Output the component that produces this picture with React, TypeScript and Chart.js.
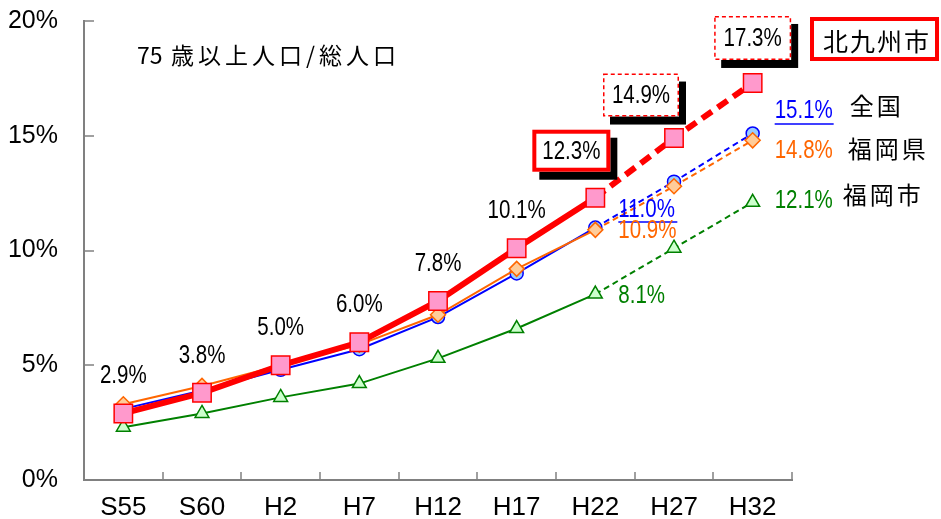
import React, { useEffect, useRef } from "react";
import { Chart, registerables } from "chart.js";

Chart.register(...registerables);

const categories = ["S55", "S60", "H2", "H7", "H12", "H17", "H22", "H27", "H32"];
const kitakyushu = [2.9, 3.8, 5.0, 6.0, 7.8, 10.1, 12.3, 14.9, 17.3];
const zenkoku = [3.1, 3.9, 4.8, 5.7, 7.1, 9.0, 11.0, 13.0, 15.1];
const fukuokaKen = [3.3, 4.1, 5.0, 5.9, 7.2, 9.2, 10.9, 12.8, 14.8];
const fukuokaShi = [2.3, 2.9, 3.6, 4.2, 5.3, 6.6, 8.1, 10.1, 12.1];
const yTicks = [0, 5, 10, 15, 20];
const seriesNames = ["北九州市", "全国", "福岡県", "福岡市"];
const titleNumber = "75";
const titleText = "歳以上人口/総人口";
const projectionStart = 6; // index of H22: later segments are dashed

const NUM_FONT = '"Liberation Sans", Arial, sans-serif';
const CJK_FONT = '"Noto Sans CJK JP", sans-serif';

const RED = "#FF0000";
const BLUE = "#0000FF";
const ORANGE = "#FF6600";
const GREEN = "#008000";

const fmt = (v: number) => v.toFixed(1) + "%";

function drawText(
  ctx: CanvasRenderingContext2D,
  str: string,
  x: number,
  y: number,
  font: string,
  color: string,
  align: CanvasTextAlign = "center",
  spacing = "0px",
  sx = 1
) {
  ctx.save();
  ctx.translate(x, y);
  ctx.scale(sx, 1);
  ctx.font = font;
  ctx.fillStyle = color;
  ctx.textAlign = align;
  ctx.textBaseline = "middle";
  (ctx as any).letterSpacing = spacing;
  ctx.fillText(str, 0, 0);
  ctx.restore();
}

function drawBox(
  ctx: CanvasRenderingContext2D,
  cx: number,
  cy: number,
  w: number,
  h: number,
  dashed: boolean,
  shadow: boolean,
  borderW: number
) {
  const x0 = cx - w / 2;
  const y0 = cy - h / 2;
  ctx.save();
  if (shadow) {
    ctx.fillStyle = "#000000";
    ctx.fillRect(x0 + 7, y0 + 8, w, h);
  }
  ctx.fillStyle = "#FFFFFF";
  ctx.fillRect(x0, y0, w, h);
  ctx.strokeStyle = RED;
  ctx.lineWidth = borderW;
  if (dashed) ctx.setLineDash([4, 3]);
  ctx.strokeRect(x0 + borderW / 2, y0 + borderW / 2, w - borderW, h - borderW);
  ctx.restore();
}

const NUM = `25px ${NUM_FONT}`;
const SX = 0.82;

const overlay = {
  id: "overlay",
  afterDatasetsDraw(chart: any) {
    const { ctx, chartArea } = chart;
    const x = chart.scales.x;
    const y = chart.scales.y;
    ctx.save();

    // inner ticks on axes
    ctx.strokeStyle = "#808080";
    ctx.lineWidth = 1.5;
    yTicks.forEach((v) => {
      const py = Math.round(y.getPixelForValue(v));
      ctx.beginPath();
      ctx.moveTo(chartArea.left, py);
      ctx.lineTo(chartArea.left + 10, py);
      ctx.stroke();
    });
    for (let i = 1; i <= categories.length; i++) {
      const px = Math.round(x.getPixelForValue(i - 0.5));
      ctx.beginPath();
      ctx.moveTo(px, chartArea.bottom);
      ctx.lineTo(px, chartArea.bottom - 8);
      ctx.stroke();
    }

    const px = (i: number) => x.getPixelForValue(i);
    const py = (v: number) => y.getPixelForValue(v);

    // title
    drawText(ctx, titleNumber, 137, 55, `23px ${CJK_FONT}`, "#000000", "left");
    drawText(ctx, titleText, 171, 55, `23px ${CJK_FONT}`, "#000000", "left", "4px");

    // Kitakyushu labels
    for (let i = 0; i < projectionStart; i++) {
      drawText(ctx, fmt(kitakyushu[i]), px(i), py(kitakyushu[i]) - 37, NUM, "#000000", "center", "0px", SX);
    }
    const i22 = projectionStart;
    {
      const cx = px(i22) - 24;
      const cy = py(kitakyushu[i22]) - 47;
      drawBox(ctx, cx, cy, 78, 42, false, true, 4);
      drawText(ctx, fmt(kitakyushu[i22]), cx, cy + 1, NUM, "#000000", "center", "0px", SX);
    }
    {
      const cx = px(i22 + 1) - 33;
      const cy = py(kitakyushu[i22 + 1]) - 43;
      drawBox(ctx, cx, cy, 76, 43, true, true, 1.5);
      drawText(ctx, fmt(kitakyushu[i22 + 1]), cx, cy + 1, NUM, "#000000", "center", "0px", SX);
    }
    {
      const cx = px(i22 + 2);
      const cy = py(kitakyushu[i22 + 2]) - 45;
      drawBox(ctx, cx, cy, 77, 44, true, true, 1.5);
      drawText(ctx, fmt(kitakyushu[i22 + 2]), cx, cy + 1, NUM, "#000000", "center", "0px", SX);
    }
    drawBox(ctx, 874.5, 39, 129, 44, false, false, 4);
    drawText(ctx, seriesNames[0], 877, 41, `25px ${CJK_FONT}`, "#000000", "center", "2px");

    // H22 labels for other series
    const lx22 = px(i22) + 23;
    drawText(ctx, fmt(zenkoku[i22]), lx22, py(zenkoku[i22]) - 17, NUM, BLUE, "left", "0px", SX);
    ctx.strokeStyle = BLUE;
    ctx.lineWidth = 1.5;
    ctx.beginPath();
    ctx.moveTo(lx22, py(zenkoku[i22]) - 5.5);
    ctx.lineTo(lx22 + 59, py(zenkoku[i22]) - 5.5);
    ctx.stroke();
    drawText(ctx, fmt(fukuokaKen[i22]), lx22, py(fukuokaKen[i22]) + 1, NUM, ORANGE, "left", "0px", SX);
    drawText(ctx, fmt(fukuokaShi[i22]), lx22, py(fukuokaShi[i22]) + 2, NUM, GREEN, "left", "0px", SX);

    // H32 labels
    const last = categories.length - 1;
    const lx = px(last) + 22;
    drawText(ctx, fmt(zenkoku[last]), lx, py(zenkoku[last]) - 22, NUM, BLUE, "left", "0px", SX);
    ctx.beginPath();
    ctx.moveTo(lx, py(zenkoku[last]) - 9.5);
    ctx.lineTo(lx + 59, py(zenkoku[last]) - 9.5);
    ctx.stroke();
    drawText(ctx, fmt(fukuokaKen[last]), lx, py(fukuokaKen[last]) + 11, NUM, ORANGE, "left", "0px", SX);
    drawText(ctx, fmt(fukuokaShi[last]), lx, py(fukuokaShi[last]) - 1, NUM, GREEN, "left", "0px", SX);

    const cjk = `24px ${CJK_FONT}`;
    drawText(ctx, seriesNames[1], lx + 75, py(zenkoku[last]) - 28, cjk, "#000000", "left", "3px");
    drawText(ctx, seriesNames[2], lx + 73, py(fukuokaKen[last]) + 9, cjk, "#000000", "left", "3px");
    drawText(ctx, seriesNames[3], lx + 68, py(fukuokaShi[last]) - 7, cjk, "#000000", "left", "3px");

    ctx.restore();
  },
};

export default function App() {
  const ref = useRef<HTMLCanvasElement | null>(null);

  useEffect(() => {
    if (!ref.current) return;
    const dashAfter = (dash: number[]) => (c: any) =>
      c.p0DataIndex >= projectionStart ? dash : undefined;

    const chart = new Chart(ref.current, {
      type: "line",
      data: {
        labels: categories,
        datasets: [
          {
            label: seriesNames[0],
            data: kitakyushu,
            borderColor: RED,
            borderWidth: 6,
            pointStyle: "rect",
            pointRadius: 13,
            pointBackgroundColor: "#FF99CC",
            pointBorderColor: RED,
            pointBorderWidth: 1.5,
            segment: { borderDash: dashAfter([12, 7]) },
          },
          {
            label: seriesNames[2],
            data: fukuokaKen,
            borderColor: ORANGE,
            borderWidth: 2,
            pointStyle: "rectRot",
            pointRadius: 7.5,
            pointBackgroundColor: "#FFCC99",
            pointBorderColor: ORANGE,
            pointBorderWidth: 1.5,
            segment: { borderDash: dashAfter([6, 4]) },
          },
          {
            label: seriesNames[1],
            data: zenkoku,
            borderColor: BLUE,
            borderWidth: 2,
            pointStyle: "circle",
            pointRadius: 6.5,
            pointBackgroundColor: "#99CCFF",
            pointBorderColor: BLUE,
            pointBorderWidth: 1.5,
            segment: { borderDash: dashAfter([6, 4]) },
          },
          {
            label: seriesNames[3],
            data: fukuokaShi,
            borderColor: GREEN,
            borderWidth: 2,
            pointStyle: "triangle",
            pointRadius: 8,
            pointBackgroundColor: "#CCFFCC",
            pointBorderColor: GREEN,
            pointBorderWidth: 1.5,
            segment: { borderDash: dashAfter([6, 4]) },
          },
        ],
      },
      options: {
        responsive: false,
        animation: false,
        layout: { padding: { left: 0, top: 21, right: 149, bottom: 0 } },
        plugins: {
          legend: { display: false },
          tooltip: { enabled: false },
          title: { display: false },
        },
        scales: {
          x: {
            type: "category",
            offset: true,
            grid: { display: true, drawOnChartArea: false, drawTicks: false },
            border: { display: true, color: "#808080", width: 2 },
            ticks: {
              color: "#000000",
              font: { family: NUM_FONT, size: 26 },
              padding: 12,
              maxRotation: 0,
              autoSkip: false,
            },
            afterFit: (s: any) => {
              s.height = 39;
              s.paddingLeft = 0;
              s.paddingRight = 0;
            },
          },
          y: {
            type: "linear",
            min: 0,
            max: 20,
            afterBuildTicks: (s: any) => {
              s.ticks = yTicks.map((v) => ({ value: v }));
            },
            grid: { display: true, drawOnChartArea: false, drawTicks: false },
            border: { display: true, color: "#808080", width: 2 },
            ticks: {
              color: "#000000",
              font: { family: NUM_FONT, size: 25 },
              padding: 26,
              callback: (v: any) => v + "%",
            },
            afterFit: (s: any) => {
              s.width = 84;
              s.paddingTop = 0;
              s.paddingBottom = 0;
            },
          },
        },
      } as any,
      plugins: [overlay],
    });
    return () => chart.destroy();
  }, []);

  return (
    <div style={{ position: "fixed", left: 0, top: 0, width: 941, height: 519, background: "#FFFFFF" }}>
      <canvas ref={ref} width={941} height={519} style={{ display: "block" }} />
    </div>
  );
}
